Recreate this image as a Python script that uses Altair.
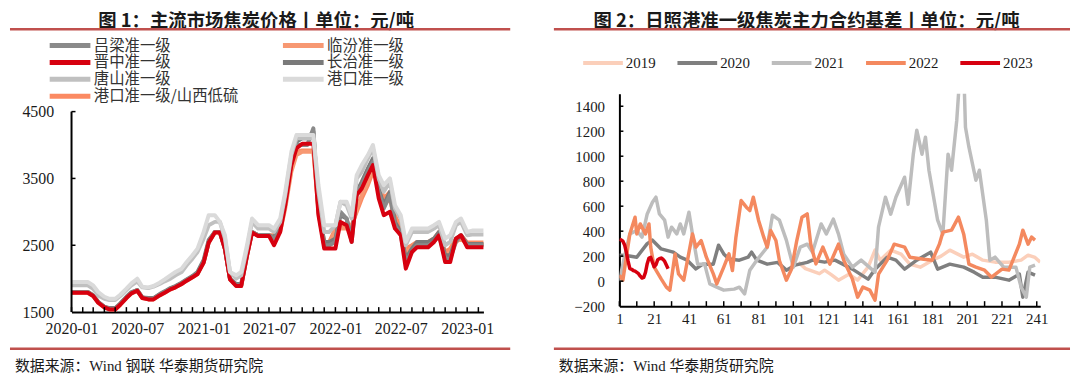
import altair as alt
import pandas as pd

# ---------------- Left panel: 主流市场焦炭价格 ----------------
dates = [f"{y}-{m:02d}-{d:02d}" for y in (2020, 2021, 2022) for m in range(1, 13) for d in (1, 15)]
dates += ["2023-01-01", "2023-01-15", "2023-02-01", "2023-02-15"]

lvliang = [1800,1800,1800,1800,1750,1650,1580,1550,1550,1620,1720,1790,1830,1720,1700,1700,1760,1800,1850,1880,1930,1980,2030,2080,
           2250,2550,2700,2700,2450,2000,1900,1900,2350,2700,2650,2650,2650,2600,2750,3150,3750,4000,4000,4000,4250,3000,2500,2500,
           2550,3000,2900,2550,3300,3400,3600,3750,3300,3050,3250,2800,2650,2250,2400,2500,2500,2500,2550,2650,2300,2300,2550,2650,
           2500,2500,2500,2500]
jinzhong = [1790,1790,1790,1790,1740,1640,1570,1540,1540,1610,1710,1780,1820,1710,1690,1690,1750,1790,1840,1870,1920,1970,2020,2070,
            2240,2540,2690,2690,2440,1990,1890,1890,2340,2690,2640,2640,2640,2500,2700,3100,3700,3950,4020,4020,4020,2950,2450,2450,
            2450,2850,2800,2550,3250,3350,3550,3700,3200,2950,3000,2750,2650,2150,2400,2470,2470,2470,2550,2650,2250,2250,2600,2650,
            2470,2470,2470,2470]
changzhi = [1800,1800,1800,1800,1750,1650,1580,1560,1560,1630,1730,1800,1830,1720,1710,1710,1770,1810,1860,1890,1940,1990,2040,2100,
            2280,2580,2700,2700,2450,2000,1920,1920,2380,2700,2650,2650,2650,2620,2780,3200,3800,4050,4100,4100,4200,3050,2550,2550,
            2600,2950,2900,2600,3300,3450,3650,3800,3350,3100,3300,2850,2700,2300,2450,2550,2550,2550,2600,2700,2350,2350,2600,2650,
            2520,2520,2520,2520]
linfen = [1790,1790,1790,1790,1740,1640,1570,1540,1540,1610,1710,1780,1820,1710,1690,1690,1750,1790,1840,1870,1920,1970,2020,2070,
          2240,2540,2690,2690,2440,1990,1890,1890,2340,2690,2640,2640,2640,2600,2700,3050,3600,3850,3900,3900,3900,3000,2500,2500,
          2750,2750,2750,2750,3050,3250,3450,3650,3400,3100,3200,2850,2700,2400,2450,2500,2500,2500,2550,2650,2350,2400,2550,2600,
          2510,2510,2510,2510]
port_shanxi = [1800,1800,1800,1800,1750,1650,1580,1550,1550,1620,1720,1790,1830,1720,1700,1700,1760,1800,1850,1880,1930,1980,2030,2080,
               2250,2550,2700,2700,2450,2000,1900,1900,2350,2700,2650,2650,2650,2650,2750,3100,3650,3900,3920,3920,3920,3050,2550,2550,
               2750,2800,2800,2800,3000,3200,3400,3600,3450,3200,3300,2950,2750,2450,2500,2550,2550,2550,2600,2700,2400,2450,2600,2650,
               2540,2540,2540,2540]
tangshan = [1900,1900,1900,1900,1850,1750,1700,1680,1680,1740,1830,1900,1960,1870,1860,1880,1920,1960,2000,2050,2100,2200,2300,2400,
            2600,2800,2850,2850,2600,2100,2000,2050,2450,2850,2750,2750,2750,2700,2850,3250,3850,4100,4100,4100,4100,3300,2700,2700,
            2800,3150,3100,2900,3500,3600,3800,3950,3500,3300,3450,3050,2900,2500,2700,2700,2700,2700,2750,2800,2500,2550,2800,2850,
            2650,2660,2660,2660]
port = [1950,1950,1950,1950,1900,1800,1730,1700,1700,1760,1850,1930,2000,1880,1870,1890,1940,1990,2050,2100,2150,2250,2350,2450,
        2700,2950,2950,2850,2650,2100,2050,2100,2500,2900,2800,2800,2800,2750,2900,3300,3900,4150,4150,4150,4150,3400,2800,2800,
        2800,3150,3150,2950,3550,3700,3850,4000,3550,3400,3500,3100,2950,2550,2750,2750,2750,2750,2800,2850,2600,2650,2850,2900,
        2700,2720,2720,2720]

# legend fills column by column: first column 吕梁/晋中/唐山/港口-山西, second 临汾/长治/港口
left_names = ["吕梁准一级", "晋中准一级", "唐山准一级", "港口准一级/山西低硫", "临汾准一级", "长治准一级", "港口准一级"]
left_colors = ["#8a8a8a", "#d7000f", "#c0c0c0", "#fb8a62", "#f79872", "#7a7a7a", "#dadada"]
left_series = {"吕梁准一级": lvliang, "临汾准一级": linfen, "晋中准一级": jinzhong, "长治准一级": changzhi,
               "唐山准一级": tangshan, "港口准一级": port, "港口准一级/山西低硫": port_shanxi}
left_draw_order = ["港口准一级/山西低硫", "临汾准一级", "长治准一级", "吕梁准一级", "晋中准一级", "唐山准一级", "港口准一级"]

left_y_ticks = [1500, 2500, 3500, 4500]
left_x_labels = ["2020-01-01", "2020-07-01", "2021-01-01", "2021-07-01", "2022-01-01", "2022-07-01", "2023-01-01"]
left_month_ticks = [f"{y}-{m:02d}-01" for y in (2020, 2021, 2022) for m in range(1, 13)] + ["2023-01-01", "2023-02-01"]

# ---------------- Right panel: 日照港准一级焦炭主力合约基差 ----------------
b2019 = [(104,150),(108,100),(112,80),(116,60),(119,88),(123,50),(127,8),(133,56),(138,8),(144,112),(148,248),(151,168),
         (157,248),(163,216),(168,136),(174,112),(181,168),(186,200),(191,248),(195,220),(199,192),(204,216),(210,168),
         (217,152),(225,152),(232,168),(236,208),(240,190),(243,152)]
b2020 = [(1,208),(5,205),(11,192),(17,300),(20,328),(25,258),(32,232),(36,192),(40,168),(45,98),(49,136),(55,136),(58,288),
         (61,218),(64,178),(70,168),(75,192),(77,232),(80,168),(86,136),(92,150),(97,88),(102,128),(109,150),(112,168),
         (119,152),(125,168),(135,96),(144,16),(148,96),(155,192),(160,168),(165,96),(172,168),(180,232),(184,96),(191,136),
         (199,112),(205,72),(210,32),(217,32),(225,8),(231,56),(233,-128),(236,72),(240,48)]
b2021 = [(1,0),(4,200),(7,378),(11,405),(14,352),(17,538),(20,632),(22,672),(24,538),(27,488),(29,352),(31,432),(34,378),
         (36,458),(38,378),(41,552),(43,378),(46,136),(50,136),(53,-22),(57,-48),(61,-72),(67,-64),(70,-48),(73,-102),(76,88),
         (80,168),(86,272),(89,528),(93,488),(97,328),(101,112),(105,272),(109,296),(112,232),(117,458),(120,378),(124,496),
         (127,376),(130,216),(135,112),(140,168),(148,72),(150,432),(154,672),(157,536),(160,672),(165,832),(167,616),
         (170,1016),(172,1208),(175,1016),(177,1152),(179,888),(184,488),(187,376),(190,1016),(192,888),(195,1288),
         (197,1700),(199,1700),(200,1232),(202,1072),(206,808),(208,888),(212,488),(214,168),(217,192),(222,112),(229,112),
         (232,-48),(235,-128),(237,112),(240,128)]
b2022 = [(1,48),(3,8),(7,378),(10,512),(11,378),(13,458),(16,378),(18,458),(19,272),(21,112),(25,18),(28,-48),(30,-72),
         (33,218),(35,58),(38,8),(43,378),(45,272),(48,325),(51,192),(55,58),(57,-22),(61,112),(64,218),(66,85),(68,352),
         (71,645),(74,592),(76,565),(78,672),(81,488),(84,352),(86,272),(88,405),(91,325),(93,165),(97,8),(100,98),(103,325),
         (106,512),(109,538),(111,298),(114,138),(118,272),(122,136),(127,296),(130,168),(135,16),(138,-128),(141,-48),
         (145,-72),(148,-152),(150,56),(155,168),(159,296),(165,272),(168,192),(176,176),(181,168),(185,296),(187,392),
         (192,408),(196,512),(199,376),(202,136),(206,112),(211,88),(215,32),(221,96),(225,88),(228,192),(231,296),(233,408),
         (236,296),(238,352),(240,328)]
b2023 = [(1,335),(2,330),(3,320),(4,290),(5,230),(6,160),(7,100),(8,95),(9,85),(10,80),(11,70),(12,60),(13,40),(14,25),
         (15,30),(16,70),(17,140),(18,185),(19,190),(20,150),(21,115),(22,130),(23,170),(24,180),(25,185),(26,175),(27,160),
         (28,130),(29,100)]

right_names = ["2019", "2020", "2021", "2022", "2023"]
right_colors = ["#fbcfba", "#7f7f7f", "#bdbdbd", "#f4895f", "#d7000f"]
right_series = {"2019": b2019, "2020": b2020, "2021": b2021, "2022": b2022, "2023": b2023}
right_y_ticks = [-200, 0, 200, 400, 600, 800, 1000, 1200, 1400]
right_x_labels = [1, 21, 41, 61, 81, 101, 121, 141, 161, 181, 201, 221, 241]
right_x_ticks = list(range(1, 242, 10))

# ---------------- Styling ----------------
SERIF = "Liberation Serif"
CJK = "Noto Sans CJK SC"
MIXED = "Liberation Serif, Noto Sans CJK SC"
DECOR = "#c0504d"
LH, RH = 220, 214
LW, RW = 415, 424
TITLE_Y = -73
SRC_Y = 274


def dt(s):
    y, m, d = (int(p) for p in s.split("-"))
    return alt.DateTime(year=y, month=m, date=d)


def decorations(title, source, title_x, left, right):
    one = lambda v: pd.DataFrame({"t": [v]})
    t = alt.Chart(one(title)).mark_text(font=CJK, fontSize=18.5, fontWeight="bold", color="#1a1a1a",
                                        align="center", baseline="middle").encode(
        text="t:N", x=alt.value(title_x), y=alt.value(TITLE_Y))
    top = alt.Chart(one(0)).mark_rule(color=DECOR, strokeWidth=2.5).encode(
        x=alt.value(left), x2=alt.value(right), y=alt.value(-65))
    bottom = alt.Chart(one(0)).mark_rule(color=DECOR, strokeWidth=2.5).encode(
        x=alt.value(left), x2=alt.value(right), y=alt.value(257))
    src = alt.Chart(one(source)).mark_text(font=MIXED, fontSize=15, color="#1a1a1a",
                                           align="left", baseline="middle").encode(
        text="t:N", x=alt.value(left + 5), y=alt.value(SRC_Y))
    return [t, top, bottom, src]


# ---------------- Left chart ----------------
rows = []
for k, name in enumerate(left_draw_order):
    for d, v in zip(dates, left_series[name]):
        rows.append({"date": d, "value": v, "series": name, "k": k})
left_df = pd.DataFrame(rows)

ytop = 4500 + (LH - 202) * 3000 / 202
lx_scale = alt.Scale(domain=[dt("2020-01-01"), dt("2023-02-15")], nice=False)
lx_axis = alt.Axis(values=[dt(s) for s in left_x_labels], format="%Y-%m", title=None, ticks=False,
                   tickSize=0, labelFont=SERIF, labelFontSize=16, labelColor="#1a1a1a",
                   labelPadding=9, domainColor="black", domainWidth=2, grid=False, labelFlush=False)
ly_scale = alt.Scale(domain=[1500, ytop], nice=False, zero=False)
ly_axis = alt.Axis(values=left_y_ticks, title=None, domain=False, ticks=False, tickSize=0, format="d",
                   labelFont=SERIF, labelFontSize=16, labelColor="#1a1a1a", labelPadding=18, grid=False)
LX = alt.X("date:T", scale=lx_scale, axis=lx_axis)
LY = alt.Y("value:Q", scale=ly_scale, axis=ly_axis)

left_lines = alt.Chart(left_df).mark_line(strokeWidth=4, strokeJoin="round").encode(
    x=LX, y=LY,
    color=alt.Color("series:N", scale=alt.Scale(domain=left_names, range=left_colors),
                    legend=alt.Legend(orient="none", legendX=-24.5, legendY=-56, columns=2, title=None,
                                      symbolType="stroke", symbolSize=1681, symbolStrokeWidth=5,
                                      clipHeight=15, rowPadding=1, columnPadding=42, labelOffset=1,
                                      labelFont=CJK, labelFontSize=15.5, labelColor="#333333",
                                      labelLimit=400)),
    detail="k:O",
)

left_dom = alt.Chart(pd.DataFrame({"value": [1500], "value2": [4500]})).mark_rule(
    color="black", strokeWidth=2).encode(y=LY, y2="value2:Q", x=alt.value(0))
left_yt = alt.Chart(pd.DataFrame({"value": left_y_ticks[1:]})).mark_rule(color="black", strokeWidth=1.5).encode(
    y=LY, x=alt.value(0), x2=alt.value(4))
left_xt = alt.Chart(pd.DataFrame({"date": left_month_ticks})).mark_rule(color="black", strokeWidth=1.5).encode(
    x=LX, y=alt.value(LH), y2=alt.value(LH - 5))

left = alt.layer(
    left_lines, left_dom, left_yt, left_xt,
    *decorations("图 1：主流市场焦炭价格丨单位：元/吨", "数据来源：Wind  钢联  华泰期货研究院", 186, -62, 442),
).properties(width=LW, height=LH)

# ---------------- Right chart ----------------
rrows = []
for name in right_names:
    for i, v in right_series[name]:
        rrows.append({"idx": i, "value": v, "year": name})
right_df = pd.DataFrame(rrows)

rx_scale = alt.Scale(domain=[1, 243], nice=False, zero=False)
rx_axis = alt.Axis(values=right_x_labels, title=None, ticks=False, tickSize=0, labelFont=SERIF,
                   labelFontSize=15, labelColor="#1a1a1a", labelPadding=5, domainColor="black",
                   domainWidth=2, grid=False, labelFlush=False, format="d")
ry_scale = alt.Scale(domain=[-200, 1500], nice=False, zero=False)
ry_axis = alt.Axis(values=right_y_ticks, title=None, ticks=False, tickSize=0, labelFont=SERIF,
                   labelFontSize=15, labelColor="#1a1a1a", labelPadding=15, domainColor="black",
                   domainWidth=2, grid=False, format="d")
RX = alt.X("idx:Q", scale=rx_scale, axis=rx_axis)
RY = alt.Y("value:Q", scale=ry_scale, axis=ry_axis)

right_lines = alt.Chart(right_df).mark_line(strokeWidth=3.5, strokeJoin="round", clip=True).encode(
    x=RX, y=RY,
    color=alt.Color("year:N", scale=alt.Scale(domain=right_names, range=right_colors),
                    legend=alt.Legend(orient="none", legendX=-38.5, legendY=-39, direction="horizontal",
                                      title=None, symbolType="stroke", symbolSize=1600, symbolStrokeWidth=4,
                                      clipHeight=16, columnPadding=20, labelOffset=1, labelFont=SERIF,
                                      labelFontSize=15, labelColor="#1a1a1a")),
)
right_yt = alt.Chart(pd.DataFrame({"value": right_y_ticks[1:]})).mark_rule(color="black", strokeWidth=1.5).encode(
    y=RY, x=alt.value(0), x2=alt.value(4))
right_xt = alt.Chart(pd.DataFrame({"idx": right_x_ticks})).mark_rule(color="black", strokeWidth=1.5).encode(
    x=RX, y=alt.value(RH), y2=alt.value(RH - 5))

right = alt.layer(
    right_lines, right_yt, right_xt,
    *decorations("图 2：日照港准一级焦炭主力合约基差丨单位：元/吨", "数据来源：Wind  华泰期货研究院", 188.5, -66, 454),
).properties(width=RW, height=RH)

chart = alt.hconcat(left, right, spacing=40).resolve_scale(color="independent").properties(
    padding={"left": 0, "top": 3, "right": 0, "bottom": 0}
).configure_view(stroke=None).configure_axis(grid=False)

chart.save("out.html", embed_options={"renderer": "svg", "actions": False})
